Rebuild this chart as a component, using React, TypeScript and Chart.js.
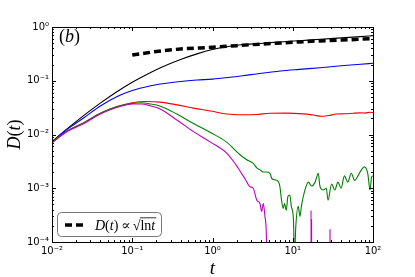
import React, { useEffect, useRef } from 'react';
import { Chart, registerables } from 'chart.js';

Chart.register(...registerables);

// ---- data ----
const xDecades = [-2, -1, 0, 1, 2];
const yDecades = [-4, -3, -2, -1, 0];

const tBlack = [0.01, 0.015, 0.025, 0.04, 0.065, 0.1, 0.165, 0.24, 0.4, 0.64, 1.0, 1.65, 2.5, 4.3, 7, 12, 22, 40, 70, 100];
const dBlack = [0.0074, 0.0123, 0.0227, 0.0384, 0.0632, 0.094, 0.14, 0.182, 0.248, 0.316, 0.381, 0.438, 0.471, 0.5, 0.527, 0.556, 0.59, 0.627, 0.662, 0.688];

const tBlue = [0.01, 0.015, 0.025, 0.04, 0.065, 0.1, 0.165, 0.24, 0.4, 0.64, 1.0, 1.65, 3, 7, 12, 22, 40, 70, 100];
const dBlue = [0.0073, 0.0121, 0.0205, 0.034, 0.051, 0.066, 0.08, 0.088, 0.097, 0.103, 0.107, 0.116, 0.13, 0.152, 0.163, 0.175, 0.19, 0.203, 0.211];

const tRed = [0.01, 0.015, 0.025, 0.04, 0.065, 0.1, 0.15, 0.22, 0.35, 0.58, 1.0, 1.5, 2.4, 3.5, 5.2, 8, 13.5, 18, 23, 28, 35, 45, 57, 70, 80, 92, 100];
const dRed = [0.0071, 0.0113, 0.0165, 0.0248, 0.033, 0.039, 0.041, 0.040, 0.036, 0.031, 0.027, 0.024, 0.0233, 0.0235, 0.0249, 0.025, 0.0242, 0.023, 0.0218, 0.0226, 0.024, 0.0243, 0.0249, 0.0252, 0.025, 0.026, 0.0255];

const tGreen = [0.01, 0.015, 0.025, 0.04, 0.065, 0.1, 0.13, 0.17, 0.22, 0.36, 0.58, 0.93, 1.5, 2.2, 2.67, 3.22, 3.56, 3.9, 4.3, 4.7, 5.2, 5.5, 6.3, 6.9, 7.2, 7.6, 7.9, 8.3, 8.7, 9.2, 9.6, 10.2, 10.5, 10.9, 11.7, 12.3, 12.9, 14.2, 15.7, 17.1, 19, 20.8, 21.8, 23.9, 26.2, 27.5, 30.5, 33.4, 36.6, 40, 44, 48.6, 53.6, 59, 65, 71.6, 78, 86, 91.8, 96, 100];
const dGreen = [0.0071, 0.0113, 0.0165, 0.0248, 0.033, 0.038, 0.039, 0.037, 0.034, 0.024, 0.016, 0.011, 0.0072, 0.0042, 0.0034, 0.0029, 0.0024, 0.0022, 0.002, 0.002, 0.0019, 0.0015, 0.0014, 0.0011, 0.00065, 0.00042, 0.00052, 0.00039, 0.0007, 0.00075, 0.00046, 0.00026, 0.00005, 0.00019, 0.00046, 0.0003, 0.00049, 0.00093, 0.0013, 0.0011, 0.0013, 0.0019, 0.0011, 0.00093, 0.001, 0.0006, 0.0012, 0.00093, 0.0013, 0.001, 0.0017, 0.0013, 0.0019, 0.0014, 0.0017, 0.0022, 0.0025, 0.0019, 0.00093, 0.0016, 0.0017];

const tMagenta = [0.01, 0.015, 0.025, 0.04, 0.065, 0.1, 0.13, 0.17, 0.22, 0.36, 0.58, 0.93, 1.5, 1.97, 2.2, 2.54, 2.93, 3.22, 3.56, 3.9, 4.1, 4.3, 4.5, 4.7, 4.9, 6, 16.8, 16.9, 17.0, 17.15, 17.3, 20, 28.9, 29.1, 29.3];
const dMagenta = [0.007, 0.011, 0.016, 0.024, 0.032, 0.037, 0.037, 0.034, 0.030, 0.0186, 0.0113, 0.0073, 0.0045, 0.0027, 0.0021, 0.0015, 0.00107, 0.001, 0.0006, 0.00052, 0.00037, 0.00052, 0.0003, 0.00012, 0.000001, null, 0.000001, 0.00039, 0.000001, 0.00026, 0.000001, null, 0.000001, 0.00017, 0.000001];

const tFit = [0.1, 0.2, 0.4, 1, 2, 4, 10, 20, 40, 100];
const dFit = [0.30, 0.35, 0.39, 0.42, 0.45, 0.48, 0.52, 0.55, 0.57, 0.61];

const SERIF = '"Liberation Serif", "DejaVu Serif", serif';
const SUP: Record<string, string> = { '-': '\u207B', '0': '\u2070', '1': '\u00B9', '2': '\u00B2', '3': '\u00B3', '4': '\u2074' };
const powLabel = (v: number) => {
  const e = Math.round(Math.log10(v));
  return '10' + String(e).split('').map((c) => SUP[c] || c).join('');
};

const pts = (t: number[], d: (number | null)[]) => t.map((x, i) => ({ x, y: d[i] }));

type Part = [string, boolean];
function drawParts(ctx: CanvasRenderingContext2D, parts: Part[], x: number, y: number, size: number) {
  for (const [s, it] of parts) {
    ctx.font = `${it ? 'italic ' : ''}${size}px ${SERIF}`;
    ctx.fillText(s, x, y);
    x += ctx.measureText(s).width;
  }
  return x;
}
function partsWidth(ctx: CanvasRenderingContext2D, parts: Part[], size: number) {
  let w = 0;
  for (const [s, it] of parts) {
    ctx.font = `${it ? 'italic ' : ''}${size}px ${SERIF}`;
    w += ctx.measureText(s).width;
  }
  return w;
}

const decor = {
  id: 'decor',
  afterDatasetsDraw(chart: any) {
    const { ctx, chartArea: a, scales } = chart;
    const xs = scales.x;
    const ys = scales.y;
    ctx.save();
    ctx.strokeStyle = '#000';
    ctx.lineWidth = 1;
    ctx.beginPath();
    for (let e = xDecades[0]; e <= xDecades[xDecades.length - 1]; e++) {
      for (let m = 1; m <= 9; m++) {
        const v = m * Math.pow(10, e);
        if (v > Math.pow(10, xDecades[xDecades.length - 1]) * 1.0001) break;
        const px = Math.round(xs.getPixelForValue(v)) + 0.5;
        const len = m === 1 ? 4 : 2;
        ctx.moveTo(px, a.bottom);
        ctx.lineTo(px, a.bottom - len);
        ctx.moveTo(px, a.top);
        ctx.lineTo(px, a.top + len);
      }
    }
    for (let e = yDecades[0]; e <= yDecades[yDecades.length - 1]; e++) {
      for (let m = 1; m <= 9; m++) {
        const v = m * Math.pow(10, e);
        if (v > Math.pow(10, yDecades[yDecades.length - 1]) * 1.0001) break;
        const py = Math.round(ys.getPixelForValue(v)) + 0.5;
        const len = m === 1 ? 4 : 2;
        ctx.moveTo(a.left, py);
        ctx.lineTo(a.left + len, py);
        ctx.moveTo(a.right, py);
        ctx.lineTo(a.right - len, py);
      }
    }
    ctx.stroke();
    ctx.strokeRect(Math.round(a.left) + 0.5, Math.round(a.top) + 0.5, Math.round(a.right - a.left), Math.round(a.bottom - a.top));

    // legend
    const lx = 57.5, ly = 212.5, lw = 104, lh = 24, r = 4;
    ctx.beginPath();
    ctx.moveTo(lx + r, ly);
    ctx.lineTo(lx + lw - r, ly);
    ctx.quadraticCurveTo(lx + lw, ly, lx + lw, ly + r);
    ctx.lineTo(lx + lw, ly + lh - r);
    ctx.quadraticCurveTo(lx + lw, ly + lh, lx + lw - r, ly + lh);
    ctx.lineTo(lx + r, ly + lh);
    ctx.quadraticCurveTo(lx, ly + lh, lx, ly + lh - r);
    ctx.lineTo(lx, ly + r);
    ctx.quadraticCurveTo(lx, ly, lx + r, ly);
    ctx.closePath();
    ctx.fillStyle = '#fff';
    ctx.fill();
    ctx.strokeStyle = '#777';
    ctx.lineWidth = 1;
    ctx.stroke();

    ctx.strokeStyle = '#000';
    ctx.lineWidth = 3.5;
    ctx.setLineDash([7, 4]);
    ctx.beginPath();
    ctx.moveTo(65, 225);
    ctx.lineTo(83, 225);
    ctx.stroke();
    ctx.setLineDash([]);

    ctx.fillStyle = '#000';
    ctx.textAlign = 'left';
    ctx.textBaseline = 'alphabetic';
    let x = drawParts(ctx, [['D', true], ['(', false], ['t', true], [')', false]], 95, 230, 14);
    x += 3;
    x = drawParts(ctx, [['\u221D', false]], x, 230, 14);
    x += 2;
    x = drawParts(ctx, [['\u221A', false]], x, 230, 14);
    const ox = x - 0.5;
    x = drawParts(ctx, [['ln', false], ['t', true]], x, 230, 14);
    ctx.lineWidth = 0.8;
    ctx.beginPath();
    ctx.moveTo(ox, 217.8);
    ctx.lineTo(x + 1, 217.8);
    ctx.stroke();

    // panel label
    drawParts(ctx, [['(', false], ['b', true], [')', false]], 59, 42, 18);

    // x title
    const wt = partsWidth(ctx, [['t', true]], 19);
    drawParts(ctx, [['t', true]], (a.left + a.right) / 2 - wt / 2, 274, 19);

    // y title
    const yParts: Part[] = [['D', true], ['(', false], ['t', true], [')', false]];
    const wy = partsWidth(ctx, yParts, 18);
    ctx.translate(20, (a.top + a.bottom) / 2);
    ctx.rotate(-Math.PI / 2);
    drawParts(ctx, yParts, -wy / 2, 0, 18);
    ctx.restore();
  },
};

export default function App() {
  const ref = useRef<HTMLCanvasElement>(null);
  useEffect(() => {
    if (!ref.current) return;
    const line = (label: string, t: number[], d: (number | null)[], color: string, order: number, extra: any = {}) => ({
      label,
      data: pts(t, d),
      borderColor: color,
      backgroundColor: color,
      borderWidth: 1.1,
      pointRadius: 0,
      fill: false,
      cubicInterpolationMode: 'monotone',
      order,
      ...extra,
    });
    const chart = new Chart(ref.current, {
      type: 'line',
      data: {
        datasets: [
          line('black', tBlack, dBlack, '#000000', 5),
          line('blue', tBlue, dBlue, '#0000ff', 4),
          line('red', tRed, dRed, '#ff0000', 3),
          line('green', tGreen, dGreen, '#008000', 2),
          line('magenta', tMagenta, dMagenta, '#bf00bf', 1),
          line('D(t) \u221D \u221Aln t', tFit, dFit, '#000000', 0, { borderWidth: 3.5, borderDash: [7, 4] }),
        ] as any,
      },
      options: {
        animation: false,
        responsive: false,
        devicePixelRatio: 1,
        layout: { padding: { left: 0, top: 27, right: 42, bottom: 0 } },
        plugins: { legend: { display: false }, tooltip: { enabled: false } },
        scales: {
          x: {
            type: 'logarithmic',
            min: 0.01,
            max: 100,
            grid: { display: false, drawTicks: false },
            border: { display: false },
            afterBuildTicks: (s: any) => { s.ticks = xDecades.map((e) => ({ value: Math.pow(10, e) })); },
            afterFit: (s: any) => { s.height = 35; },
            ticks: {
              autoSkip: false,
              maxRotation: 0,
              padding: 3,
              color: '#000',
              font: { family: '"DejaVu Sans", sans-serif', size: 10 },
              callback: (v: any) => powLabel(Number(v)),
            },
          },
          y: {
            type: 'logarithmic',
            min: 0.0001,
            max: 1,
            grid: { display: false, drawTicks: false },
            border: { display: false },
            afterBuildTicks: (s: any) => { s.ticks = yDecades.map((e) => ({ value: Math.pow(10, e) })); },
            afterFit: (s: any) => { s.width = 52; },
            ticks: {
              autoSkip: false,
              padding: 3,
              color: '#000',
              font: { family: '"DejaVu Sans", sans-serif', size: 10 },
              callback: (v: any) => powLabel(Number(v)),
            },
          },
        },
      },
      plugins: [decor],
    } as any);
    return () => chart.destroy();
  }, []);
  return (
    <canvas
      ref={ref}
      width={415}
      height={277}
      style={{ position: 'absolute', left: 0, top: 0, width: 415, height: 277, display: 'block' }}
    />
  );
}
